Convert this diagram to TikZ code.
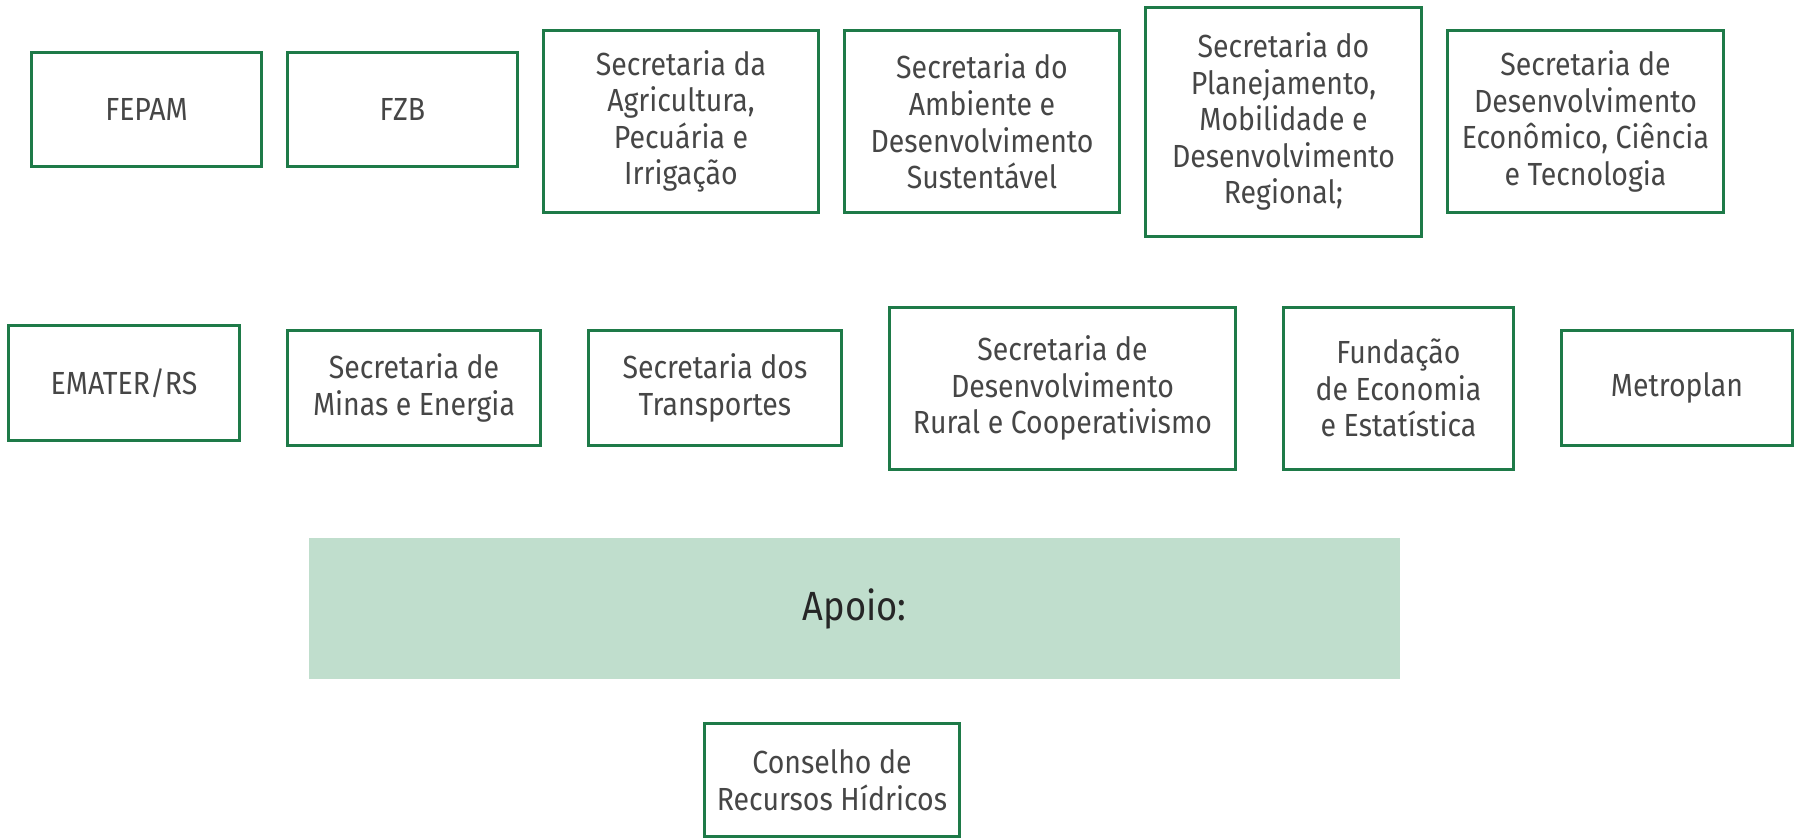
\documentclass[tikz,border=0pt]{standalone}
\usepackage{fontspec}
\setmainfont{Fira Sans}[FakeStretch=0.89]
\usepackage{xcolor}
\usepackage{tikz}
\usetikzlibrary{positioning}
\definecolor{orgline}{RGB}{30,122,72}
\definecolor{orgfill}{RGB}{192,222,205}
\definecolor{orgtext}{RGB}{70,70,70}
\tikzstyle{orgbox} = [rectangle, draw=orgline, line width=0.85pt, fill=white, text=orgtext, align=center, font=\fontsize{9.1}{10.4}\selectfont, inner sep=0pt]
\tikzstyle{band} = [rectangle, fill=orgfill, text=black!85, minimum width=10.91cm, minimum height=1.41cm, font=\fontsize{11.6}{13}\selectfont]

\begin{document}
\begin{tikzpicture}
\useasboundingbox (0,0) rectangle (18.01,-8.39);

% First row
\node[orgbox, minimum width=2.75cm, minimum height=1.82cm] (agri) at (6.81,-1.215) {Secretaria da\\Agricultura,\\Pecuária e\\Irrigação};
\node[orgbox, minimum width=2.30cm, minimum height=1.14cm, left=0.23cm of agri, yshift=0.12cm] (fzb) {FZB};
\node[orgbox, minimum width=2.30cm, minimum height=1.14cm, left=0.23cm of fzb] (fepam) {FEPAM};
\node[orgbox, minimum width=2.75cm, minimum height=1.82cm, right=0.23cm of agri] (ambiente) {Secretaria do\\Ambiente e\\Desenvolvimento\\Sustentável};
\node[orgbox, minimum width=2.76cm, minimum height=2.29cm, right=0.23cm of ambiente] (plan) {Secretaria do\\Planejamento,\\Mobilidade e\\Desenvolvimento\\Regional;};
\node[orgbox, minimum width=2.76cm, minimum height=1.82cm, right=0.23cm of plan] (econ) {Secretaria de\\Desenvolvimento\\Econômico, Ciência\\e Tecnologia};

% Second row
\node[orgbox, minimum width=2.53cm, minimum height=1.15cm] (minas) at (4.14,-3.88) {Secretaria de\\Minas e Energia};
\node[orgbox, minimum width=2.31cm, minimum height=1.15cm, left=0.45cm of minas, yshift=0.05cm] (emater) {EMATER/RS};
\node[orgbox, minimum width=2.53cm, minimum height=1.15cm, right=0.45cm of minas] (transp) {Secretaria dos\\Transportes};
\node[orgbox, minimum width=3.46cm, minimum height=1.62cm, right=0.45cm of transp] (rural) {Secretaria de\\Desenvolvimento\\Rural e Cooperativismo};
\node[orgbox, minimum width=2.30cm, minimum height=1.62cm, right=0.45cm of rural] (fee) {Fundação\\de Economia\\e Estatística};
\node[orgbox, minimum width=2.31cm, minimum height=1.15cm, right=0.45cm of fee] (metro) {Metroplan};

% Support band
\node[band] (apoio) at (8.545,-6.085) {Apoio:};

% Council
\node[orgbox, minimum width=2.55cm, minimum height=1.13cm] (conselho) at (8.32,-7.80) {Conselho de\\Recursos Hídricos};

\end{tikzpicture}
\end{document}
